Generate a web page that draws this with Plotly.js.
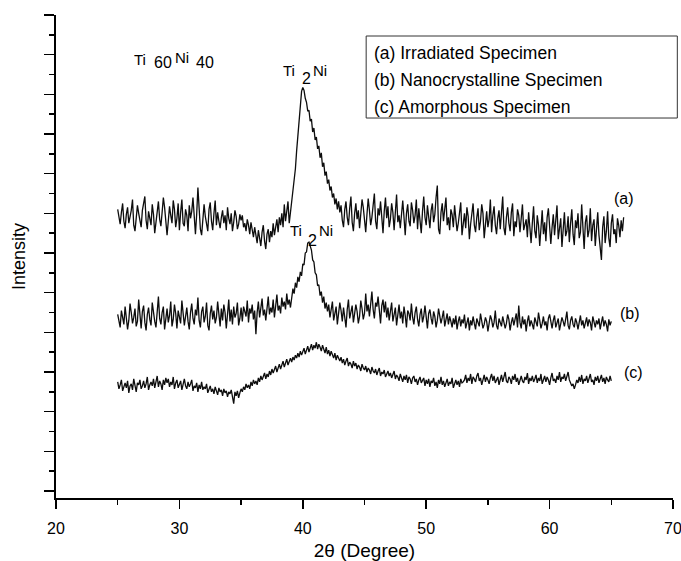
<!DOCTYPE html>
<html>
<head>
<meta charset="utf-8">
<script src="https://cdn.plot.ly/plotly-3.0.1.min.js"></script>
<style>html,body{margin:0;padding:0;background:#fff;}#chart{width:681px;height:561px;}</style>
</head>
<body>
<div id="chart"></div>
<script>
// 2-theta scan: start and step (degrees)
const scanStart = 25.0;
const scanStep = 0.1;

// (a) Irradiated specimen, 25.0 .. 66.0
const irradiated = [
284,276,269,281,290,272,265,279,286,270,275,283,294,268,262,277,288,280,271,266,
283,291,297,273,264,282,276,268,289,279,260,271,285,292,274,267,281,296,286,269,
258,272,287,278,270,293,284,266,275,290,263,281,294,270,267,284,278,262,288,275,
282,296,270,259,279,306,285,264,258,273,289,277,270,262,284,291,272,263,280,293,268,
281,272,265,276,283,270,278,263,286,275,269,280,262,271,283,277,264,269,279,273,
278,266,270,262,274,268,259,271,264,256,
266,258,250,263,255,247,261,268,252,244,259,264,
251,262,256,270,258,266,274,261,276,268,
280,266,289,272,284,292,270,281,
288,300,314,325,343,356,377,390,403,407,404,396,392,383,384,373,375,362,366,354,
357,345,348,336,341,327,331,318,322,310,314,303,307,296,300,289,295,284,292,281,
288,273,266,284,292,276,268,285,297,271,262,280,290,274,283,265,278,294,286,270,
261,279,295,283,268,276,289,300,272,264,285,278,292,269,260,282,296,275,287,266,
274,290,281,263,286,299,271,278,265,284,293,276,258,280,289,272,267,291,283,270,
278,294,264,285,273,260,282,297,276,268,288,274,265,283,290,271,279,296,308,264,
259,281,290,272,285,296,268,276,263,284,
279,266,288,275,262,270,284,291,258,273,280,265,286,277,254,269,283,290,268,261,
276,285,263,272,289,280,255,270,282,266,274,294,261,278,287,268,259,275,283,264,
279,297,265,258,276,286,270,262,281,290,257,272,266,284,278,261,275,289,263,270,
274,256,281,266,250,270,287,262,255,278,268,247,264,283,259,271,252,276,285,260,
249,266,279,258,272,288,254,263,275,246,268,281,257,262,277,251,270,284,259,248,
273,265,280,255,261,289,266,244,271,278,256,263,285,252,268,274,247,262,281,258,
242,233,266,277,250,262,282,255,246,270,279,259,264,250,275,268,256,273,262,276
];

// (b) Nanocrystalline specimen, 25.0 .. 65.0
const nanocrystalline = [
178,170,165,182,174,168,186,177,163,172,189,180,169,175,184,166,171,193,176,164,
181,187,170,162,178,185,173,167,190,179,171,165,183,196,174,168,180,186,163,175,
184,170,177,191,166,173,188,179,164,182,175,169,192,181,167,176,185,171,163,180,
189,174,168,183,177,195,172,165,181,186,170,176,190,167,162,179,187,173,182,169,
175,191,178,166,184,172,188,180,164,177,193,171,183,168,186,175,179,190,167,174,185,
171,186,181,176,192,170,184,179,188,173,182,158,180,191,175,187,194,177,183,172,
189,196,178,185,180,193,175,190,198,182,187,179,195,186,191,183,199,188,193,185,
193,204,199,210,205,216,211,221,217,229,228,240,241,250,251,246,243,233,231,220,
218,207,208,197,201,190,196,184,190,181,
188,175,183,191,172,179,186,168,177,190,182,171,185,176,165,183,193,174,180,187,
170,178,188,181,169,176,192,184,173,179,
199,181,188,176,194,201,183,174,190,186,196,178,169,187,193,180,191,175,185,172,
183,190,171,178,185,167,176,188,174,181,169,186,177,165,182,179,172,189,175,168,
180,186,173,166,178,184,170,176,187,171,164,179,183,174,168,181,176,165,172,184,
177,169,175,182,166,173,179,168,176,171,
165,174,168,177,163,171,176,166,173,169,178,164,170,175,162,172,167,176,169,163,
174,170,166,179,172,164,168,175,171,161,169,177,173,165,170,182,167,163,174,170,
166,176,171,164,169,178,173,162,170,175,167,172,179,165,187,170,164,176,168,173,
161,171,177,166,172,168,163,175,170,166,180,172,164,169,176,167,171,162,174,178,
168,164,172,177,165,170,174,162,169,175,171,166,173,181,167,163,172,176,168,165,
174,170,163,171,177,167,172,164,169,175,166,173,170,162,176,171,165,172,168,174,
163,170,176,166,172,168,161,173,167,171
];

// (c) Amorphous specimen, 25.0 .. 65.0
const amorphous = [
110,103,107,112,101,105,109,104,111,99,106,108,102,113,105,100,109,107,112,103,106,
111,104,108,115,102,107,110,106,113,104,109,116,105,111,108,102,112,107,114,109,
113,105,110,107,115,103,109,112,104,108,111,102,107,113,106,103,110,105,108,112,
101,106,104,109,100,107,103,110,102,105,
103,108,99,104,106,100,103,98,105,101,97,104,100,102,96,103,99,101,95,100,
98,102,95,88,100,96,101,94,99,103,
100,105,102,108,104,107,103,110,106,112,108,111,107,114,110,116,112,115,119,113,
118,115,121,117,123,119,122,126,120,125,128,123,127,131,125,129,133,127,131,134,
130,135,132,137,134,139,135,141,137,140,144,138,143,146,140,145,148,142,147,144,
150,143,148,145,
141,147,143,139,145,138,142,136,141,137,134,139,132,137,134,131,
135,129,133,127,131,134,126,130,128,124,131,126,129,123,127,125,121,128,124,122,
126,120,124,122,118,125,121,119,123,117,121,124,116,120,118,122,115,119,121,116,
119,114,118,121,113,117,115,111,118,114,110,116,112,117,109,115,113,108,114,116,
110,113,107,112,115,109,111,114,106,112,
108,113,105,111,109,114,106,110,104,112,108,115,107,111,105,109,113,106,110,108,
114,104,109,112,107,111,105,113,109,110,
112,117,109,114,111,118,108,115,113,110,116,119,111,114,107,113,117,110,115,112,
108,114,118,111,116,109,113,115,107,112,117,110,114,120,111,109,115,113,108,116,
112,118,110,114,107,113,116,111,109,115,112,119,108,114,111,116,110,113,117,109,
114,111,118,108,113,116,110,115,112,107,114,119,111,113,109,116,112,120,110,115,
113,118,111,116,120,112,109,106,108,103,
107,112,109,115,110,117,108,113,111,116,109,114,118,110,112,107,115,111,116,109,
113,117,110,114,108,115,112,110,116,111
];

const seriesNames = ["(a) Irradiated Specimen", "(b) Nanocrystalline Specimen", "(c) Amorphous Specimen"];
const curveLabels = ["(a)", "(b)", "(c)"];
const xTickLabels = ["20", "30", "40", "50", "60", "70"];
const xTickVals = [20, 30, 40, 50, 60, 70];

const FONT = "Liberation Sans, Arial, Helvetica, sans-serif";
const lineStyle = {color: "#0d0d0d", width: 1.3};

const traces = [irradiated, nanocrystalline, amorphous].map((ys, k) => ({
  type: "scatter", mode: "lines",
  x0: scanStart, dx: scanStep, y: ys,
  name: seriesNames[k], line: lineStyle, hoverinfo: "skip"
}));

// text placement helper: pixel position in the 681x561 frame -> paper coords
const PL = 56, PW = 616.7, PB = 498, PH = 483;
const txt = (px, py, text, size, xanchor) => ({
  xref: "paper", yref: "paper", x: (px - PL) / PW, y: (PB - py) / PH,
  text: text, showarrow: false, xanchor: xanchor || "center", yanchor: "middle",
  font: {family: FONT, size: size, color: "#000"}
});

const annotations = [
  // Ti60Ni40
  txt(140, 59, "Ti", 15), txt(162.5, 63, "60", 16), txt(181.5, 58, "Ni", 15), txt(205, 63, "40", 16),
  // Ti2Ni above peak (a)
  txt(289, 71, "Ti", 15), txt(306, 79, "2", 16), txt(320, 71, "Ni", 15),
  // Ti2Ni above peak (b)
  txt(296, 231, "Ti", 15), txt(312, 240, "2", 16), txt(326, 230, "Ni", 15),
  // curve labels
  txt(623.5, 198, curveLabels[0], 16), txt(630, 313, curveLabels[1], 16), txt(633, 372, curveLabels[2], 16),
  // legend text
  txt(372, 53, seriesNames[0], 17.5, "left"),
  txt(372, 80, seriesNames[1], 17.5, "left"),
  txt(372, 107, seriesNames[2], 17.5, "left")
];

const layout = {
  width: 681, height: 561,
  margin: {l: 56, r: 8, t: 15, b: 63},
  paper_bgcolor: "#fff", plot_bgcolor: "#fff",
  showlegend: false,
  font: {family: FONT, color: "#000"},
  xaxis: {
    range: [20, 70], tickmode: "array", tickvals: xTickVals, ticktext: xTickLabels,
    ticks: "outside", ticklen: 9, tickwidth: 1.5, tickcolor: "#000",
    showline: true, linewidth: 2, linecolor: "#000", showgrid: false, zeroline: false,
    minor: {tickmode: "linear", tick0: 25, dtick: 10, ticks: "outside", ticklen: 5, tickwidth: 1.5, tickcolor: "#000", showgrid: false},
    tickfont: {family: FONT, size: 16, color: "#000"},
    ticklabelstandoff: 6, ticklabeloverflow: "allow",
    title: {text: "2θ (Degree)", font: {family: FONT, size: 19, color: "#000"}, standoff: 7},
    automargin: false, fixedrange: true
  },
  yaxis: {
    range: [-7.06, 480], tick0: 0, dtick: 40,
    ticks: "outside", ticklen: 10, tickwidth: 1.5, tickcolor: "#000",
    showticklabels: false,
    showline: true, linewidth: 2, linecolor: "#000", showgrid: false, zeroline: false,
    minor: {tick0: 0, dtick: 20, ticks: "outside", ticklen: 5, tickwidth: 1.5, tickcolor: "#000", showgrid: false},
    title: {text: "Intensity", font: {family: FONT, size: 18, color: "#000"}, standoff: 14},
    automargin: false, fixedrange: true
  },
  shapes: [{type: "rect", xref: "paper", yref: "paper", x0: 0.5027, x1: 1.007, y0: 0.7867, y1: 0.9565,
            line: {color: "#333", width: 1}, fillcolor: "rgba(0,0,0,0)"}],
  annotations: annotations
};

Plotly.newPlot("chart", traces, layout, {displayModeBar: false, staticPlot: true});
</script>
</body>
</html>
